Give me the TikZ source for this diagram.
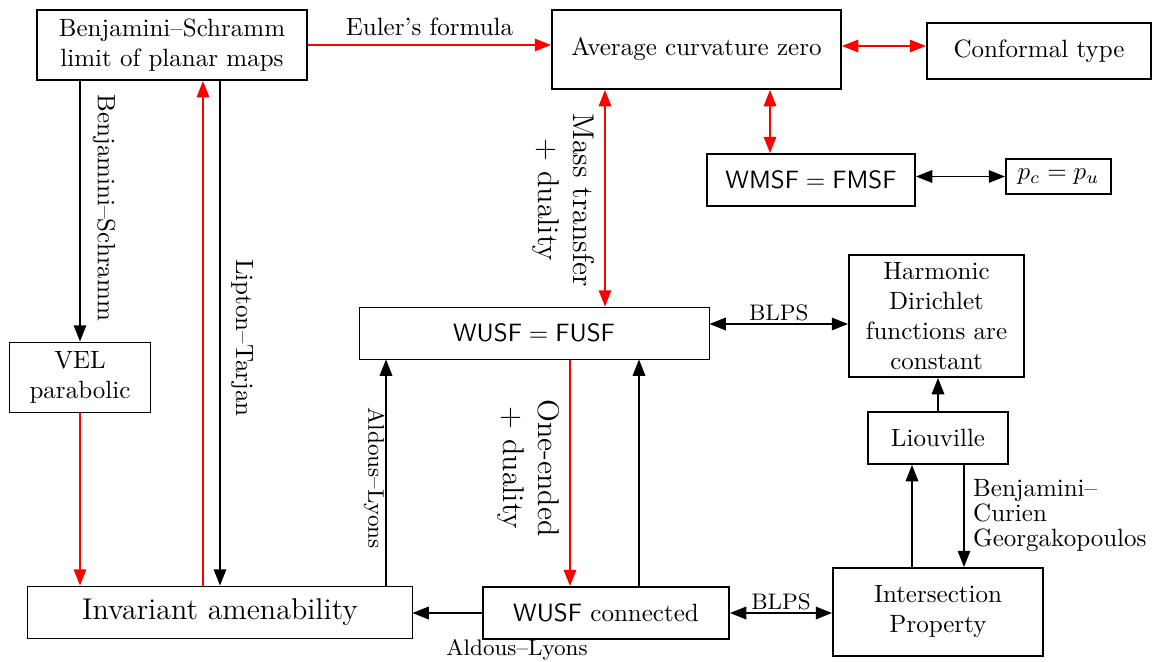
\documentclass[tikz,border=0pt]{standalone}
\usetikzlibrary{arrows.meta,calc}
\begin{document}
\begin{tikzpicture}[x=0.4pt,y=-0.4pt,
  >={Triangle[length=6.5pt,width=5pt]},
  box/.style={draw, line width=0.8pt, align=center},
  thinbox/.style={draw, line width=0.4pt, align=center},
  conn/.style={line width=0.7pt},
  vlbl/.style={rotate=-90, align=center}]
  \useasboundingbox (0,0) rectangle (1154,661);
  % boxes
  \node[box, minimum width=108pt, minimum height=28pt] (bs) at (172,45) {Benjamini--Schramm\\limit of planar maps};
  \node[box, minimum width=115.6pt, minimum height=31.6pt] (acz) at (696.5,49.5) {Average curvature zero};
  \node[box, minimum width=89.6pt, minimum height=22.4pt] (conf) at (1039,51) {Conformal type};
  \node[box, minimum width=83.2pt, minimum height=20.8pt] (wmsf) at (811,180) {$\mathsf{WMSF}=\mathsf{FMSF}$};
  \node[box, minimum width=42pt, minimum height=14pt, inner sep=1pt] (pcpu) at (1058.5,176.5) {$p_c=p_u$};
  \node[thinbox, minimum width=140pt, minimum height=20.8pt] (wf) at (534,333) {$\mathsf{WUSF}=\mathsf{FUSF}$};
  \node[box, minimum width=70pt, minimum height=48.8pt, inner sep=1pt] (harm) at (936.5,316) {Harmonic\\Dirichlet\\functions are\\constant};
  \node[box, minimum width=56pt, minimum height=20.8pt] (liou) at (938,438) {Liouville};
  \node[box, minimum width=84pt, minimum height=35.2pt] (ip) at (938,612) {Intersection\\Property};
  \node[box, minimum width=98.4pt, minimum height=20.8pt] (wc) at (606,613) {$\mathsf{WUSF}$ connected};
  \node[thinbox, minimum width=153.6pt, minimum height=20.8pt, font=\large] (ia) at (220,612) {Invariant amenability};
  \node[thinbox, minimum width=56pt, minimum height=28pt] (vel) at (80,377) {VEL\\parabolic};
  % x and y positions of the connectors
  \coordinate (xrl) at (203,0);
  \coordinate (xal) at (386,0);
  \coordinate (xoe) at (570,0);
  \coordinate (xup) at (639,0);
  \coordinate (xmt) at (605,0);
  \coordinate (xms) at (770,0);
  \coordinate (xiu) at (912,0);
  \coordinate (xbc) at (964,0);
  \coordinate (yct) at (0,46);
  \coordinate (ybl) at (0,324);
  % red implications
  \draw[conn, red, ->] (bs.east) -- (bs.east -| acz.west) node[midway, above, black] {Euler's formula};
  \draw[conn, red, <->] (acz.east |- yct) -- (conf.west |- yct);
  \draw[conn, red, <->] (xmt |- acz.south) -- (xmt |- wf.north);
  \draw[conn, red, <->] (xms |- acz.south) -- (xms |- wmsf.north);
  \draw[conn, red, ->] (xoe |- wf.south) -- (xoe |- wc.north);
  \draw[conn, red, ->] (vel.south) -- (vel.south |- ia.north);
  \draw[conn, red, ->] (xrl |- ia.north) -- (xrl |- bs.south);
  % black implications
  \draw[conn, <->] (wmsf.east |- pcpu.west) -- (pcpu.west);
  \draw[conn, <->] (wf.east |- ybl) -- (harm.west |- ybl) node[midway, above, font=\small, inner sep=1pt] {BLPS};
  \draw[conn, ->] (liou.north) -- (liou.north |- harm.south);
  \draw[conn, ->] (xiu |- ip.north) -- (xiu |- liou.south);
  \draw[conn, ->] (xbc |- liou.south) -- (xbc |- ip.north) node[midway, right, align=left] {Benjamini--\\[-2pt]Curien\\[-2pt]Georgakopoulos};
  \draw[conn, <->] (wc.east) -- (wc.east -| ip.west) node[midway, above, font=\small, inner sep=1pt] {BLPS};
  \draw[conn, ->] (wc.west) -- (wc.west -| ia.east);
  \draw[conn, ->] (xup |- wc.north) -- (xup |- wf.south);
  \draw[conn, ->] (xal |- ia.north) -- (xal |- wf.south);
  \draw[conn, ->] (bs.south -| vel.north) -- (vel.north);
  \draw[conn, ->] (bs.south -| ia.north) -- (ia.north);
  % labels
  \node[font=\small] (alh) at (517,650) {Aldous--Lyons};
  \node[vlbl, font=\small] (alv) at (374,478) {Aldous--Lyons};
  \node[vlbl, font=\large] (mtd) at (563,200) {Mass transfer\\$+$ duality};
  \node[vlbl, font=\large] (oed) at (528,468) {One-ended\\$+$ duality};
  \node[vlbl] (bsl) at (104,208) {Benjamini--Schramm};
  \node[vlbl] (ltj) at (242,338) {Lipton--Tarjan};
\end{tikzpicture}
\end{document}
